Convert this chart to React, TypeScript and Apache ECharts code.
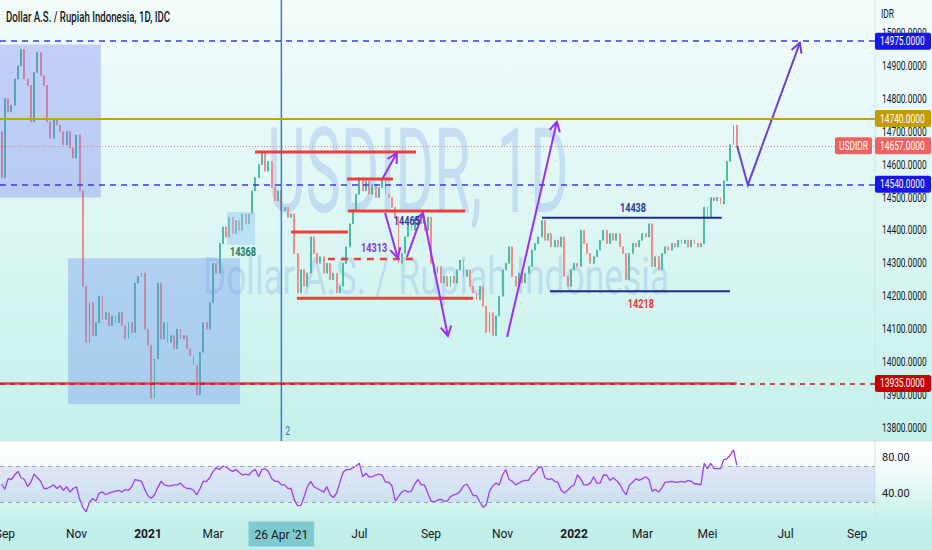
import { useEffect, useRef } from 'react';
import * as echarts from 'echarts';

// 2-trading-day bars starting Thu 27 Aug 2020; the axis runs on into the future (~Sep 2022)
const FIRST_DAY = '2020-08-27';
const BAR_COUNT = 269;
const FIRST_OPEN = 14700;

const closes = [
  14560, 14800, 14760, 14780, 14860, 14900, 14950, 14860, 14840, 14730,
  14880, 14940, 14870, 14840, 14730, 14680, 14740, 14720, 14700, 14660,
  14700, 14650, 14620, 14690, 14520, 14230, 14060, 14180, 14080, 14120,
  14200, 14130, 14150, 14110, 14140, 14120, 14150, 14110, 14070, 14120,
  14090, 14240, 14260, 14270, 14100, 14050, 13890, 14010, 14240, 14070,
  14120, 14060, 14080, 14040, 14100, 14070, 14080, 14040, 14020, 13990,
  13900, 14030, 14120, 14100, 14180, 14300, 14270, 14360, 14410, 14380,
  14440, 14390, 14430, 14400, 14450, 14420, 14450, 14520, 14560, 14600,
  14640, 14580, 14610, 14530, 14490, 14520, 14460, 14470, 14440, 14450,
  14330, 14210, 14280, 14230, 14270, 14380, 14330, 14300, 14320, 14270,
  14300, 14250, 14270, 14210, 14230, 14300, 14350, 14420, 14460, 14510,
  14560, 14520, 14550, 14510, 14540, 14500, 14530, 14560, 14510, 14500,
  14470, 14440, 14300, 14330, 14380, 14420, 14400, 14440, 14420, 14430,
  14400, 14440, 14300, 14270, 14290, 14240, 14260, 14230, 14260, 14240,
  14280, 14310, 14260, 14280, 14230, 14210, 14190, 14230, 14170, 14090,
  14150, 14080, 14140, 14200, 14280, 14300, 14350, 14260, 14230, 14270,
  14240, 14270, 14290, 14340, 14360, 14380, 14430, 14370, 14390, 14350,
  14370, 14350, 14380, 14260, 14230, 14280, 14300, 14290, 14400, 14360,
  14330, 14300, 14320, 14340, 14370, 14400, 14360, 14390, 14370, 14390,
  14350, 14330, 14250, 14330, 14360, 14350, 14370, 14390, 14380, 14420,
  14290, 14320, 14280, 14330, 14350, 14340, 14360, 14350, 14370, 14360,
  14370, 14350, 14370, 14360, 14350, 14360, 14470, 14440, 14500, 14490,
  14500, 14480, 14550, 14610, 14660, 14720, 14657
];

const rsiValues = [
  50, 44, 56, 55, 60, 64, 57, 55, 47, 52,
  61, 57, 53, 45, 45, 47, 49, 45, 48, 43,
  47, 41, 45, 47, 33, 24, 19, 30, 34, 31,
  40, 41, 38, 40, 41, 42, 43, 41, 44, 43,
  47, 55, 54, 53, 44, 37, 34, 38, 46, 53,
  49, 48, 48, 49, 49, 51, 47, 45, 45, 43,
  38, 45, 53, 53, 57, 64, 68, 66, 70, 69,
  66, 64, 66, 63, 60, 61, 60, 64, 66, 58,
  66, 67, 64, 56, 53, 53, 49, 49, 45, 45,
  32, 26, 26, 36, 47, 53, 47, 45, 43, 41,
  47, 38, 35, 40, 52, 63, 66, 66, 68, 70,
  73, 58, 62, 58, 58, 60, 61, 60, 52, 52,
  48, 31, 36, 41, 43, 41, 42, 50, 55, 49,
  49, 40, 31, 30, 32, 33, 31, 31, 36, 38,
  39, 42, 48, 50, 44, 37, 37, 30, 24, 27,
  42, 48, 51, 49, 60, 66, 55, 53, 49, 51,
  53, 54, 54, 60, 63, 68, 69, 57, 55, 56,
  53, 52, 43, 40, 43, 47, 49, 60, 56, 49,
  49, 51, 58, 51, 51, 60, 60, 54, 57, 54,
  50, 43, 38, 49, 52, 56, 54, 56, 58, 55,
  42, 44, 41, 46, 52, 52, 53, 52, 52, 53,
  52, 54, 53, 50, 50, 49, 73, 67, 73, 67,
  67, 67, 77, 78, 82, 88, 71
];

const priceTicks = [13800, 13900, 14000, 14100, 14200, 14300, 14400, 14500, 14600, 14700, 14800, 14900, 15000];
const rsiTicks = [40, 80];
// time-scale labels as TradingView placed them (bar index of the first session of the month)
const xTickBars = [1, 23, 45, 65, 110, 132, 154, 176, 197, 217, 241, 263];
const xTickTexts = ['Sep', 'Nov', '2021', 'Mar', 'Jul', 'Sep', 'Nov', '2022', 'Mar', 'Mei', 'Jul', 'Sep'];
const crosshairBar = 86;
const crosshairLabel = "26 Apr '21";

const priceLevels = [
  { price: 14975, color: '#3a3ae6', box: '#1616e6', dash: [6, 5], width: 1.5 },
  { price: 14740, color: '#c9a000', box: '#c49b00', dash: 'solid', width: 2 },
  { price: 14540, color: '#3a3ae6', box: '#1616e6', dash: [6, 5], width: 1.5 },
  { price: 13935, color: '#c41414', box: '#c80000', dash: [5, 5], width: 1.5 },
  { price: 14657, color: '#f07a7a', box: '#f06262', dash: [1, 2], width: 1 }
];

const RED = '#f23c3c';
const NAVY = '#1e2a8e';
const PURPLE = '#9b2ff2';
const INDIGO = '#6c3fd2';

// drawings in [bar index, price]
const boxes = [
  { from: [-0.5, 14965], to: [30.5, 14500], fill: 'rgba(104,116,240,0.32)' },
  { from: [20.4, 14315], to: [73.3, 13872], fill: 'rgba(96,134,238,0.33)' },
  { from: [69.3, 14456], to: [77.9, 14356], fill: 'rgba(150,200,245,0.45)' }
];

const segments = [
  { from: [77.9, 14638], to: [127.4, 14638], color: RED, width: 3 },
  { from: [106.2, 14556], to: [120.3, 14556], color: RED, width: 3 },
  { from: [106.5, 14459], to: [142.5, 14459], color: RED, width: 3 },
  { from: [89, 14395], to: [106.5, 14395], color: RED, width: 3 },
  { from: [100.3, 14313], to: [127.7, 14313], color: RED, width: 2.5, dash: [7, 6] },
  { from: [90.8, 14194], to: [144.9, 14194], color: RED, width: 3 },
  { from: [166.1, 14438], to: [221.4, 14438], color: NAVY, width: 2 },
  { from: [168.6, 14215], to: [223.9, 14215], color: NAVY, width: 2 },
  { from: [-0.5, 13935], to: [226, 13935], color: '#e84040', width: 2.5 }
];

const arrows = [
  { points: [[117.2, 14559], [121.5, 14635]], color: PURPLE },
  { points: [[117.9, 14453], [121.8, 14316]], color: PURPLE },
  { points: [[124.6, 14319], [129.5, 14453]], color: PURPLE },
  { points: [[129.5, 14453], [137.2, 14079]], color: PURPLE },
  { points: [[155.4, 14076], [170.7, 14730]], color: PURPLE },
  { points: [[226.1, 14657], [229.4, 14538], [245.4, 14970]], color: INDIGO }
];

const notes = [
  { at: [124.6, 14428], text: '14465', color: '#2b3a9c' },
  { at: [114.5, 14346], text: '14313', color: '#8e2fd8' },
  { at: [194.1, 14468], text: '14438', color: '#2b3a9c' },
  { at: [196.5, 14176], text: '14218', color: '#e03a3a' },
  { at: [74.2, 14334], text: '14368', color: '#1f7e6a' }
];

const FONT = 'Roboto, sans-serif';
const SQUEEZE = 0.7; // the screenshot's type is horizontally condensed

const buildAxis = () => {
  const days: string[] = [];
  const d = new Date(FIRST_DAY + 'T00:00:00Z');
  while (days.length < BAR_COUNT * 2) {
    const wd = d.getUTCDay();
    if (wd !== 0 && wd !== 6) days.push(d.toISOString().slice(0, 10));
    d.setUTCDate(d.getUTCDate() + 1);
  }
  const categories = Array.from({ length: BAR_COUNT }, (_, i) => days[2 * i]);
  const labels: Record<number, string> = {};
  xTickBars.forEach((b, k) => {
    const t = xTickTexts[k];
    labels[b] = /^\d{4}$/.test(t) ? `{yr|${t}}` : t;
  });
  labels[crosshairBar] = `{hl|${crosshairLabel}}`;
  return { categories, labels };
};

const App = () => {
  const chartRef = useRef<HTMLDivElement>(null);

  useEffect(() => {
    if (!chartRef.current) return;
    document.body.style.margin = '0';
    const chart = echarts.init(chartRef.current, null, { renderer: 'svg' });
    const { categories, labels } = buildAxis();

    const candles = closes.map((c, i) => {
      const o = i === 0 ? FIRST_OPEN : closes[i - 1];
      return [o, c, Math.min(o, c), Math.max(o, c)];
    });

    const squeezedText = (x: number, y: number, text: string, fill: string, fontSize: number, align: string, weight: any = 'normal') => ({
      type: 'text', x, y, scaleX: SQUEEZE,
      style: { text, fill, fontSize, fontWeight: weight, fontFamily: FONT, align, verticalAlign: 'middle' }
    });

    const renderDrawings = (_params: any, api: any) => {
      const children: any[] = [];
      const pt = (p: number[]) => api.coord(p);

      boxes.forEach(b => {
        const a = pt(b.from);
        const c = pt(b.to);
        children.push({
          type: 'rect',
          shape: { x: Math.min(a[0], c[0]), y: Math.min(a[1], c[1]), width: Math.abs(c[0] - a[0]), height: Math.abs(c[1] - a[1]) },
          style: { fill: b.fill }
        });
      });

      segments.forEach(s => {
        const a = pt(s.from);
        const c = pt(s.to);
        children.push({
          type: 'line',
          shape: { x1: a[0], y1: a[1], x2: c[0], y2: c[1] },
          style: { stroke: s.color, lineWidth: s.width, lineDash: s.dash || null }
        });
      });

      // crosshair vertical line
      const vt = pt([crosshairBar, 15100]);
      const vb = pt([crosshairBar, 13760]);
      children.push({
        type: 'line',
        shape: { x1: vt[0], y1: vt[1], x2: vb[0], y2: vb[1] },
        style: { stroke: '#2f7fd6', lineWidth: 1.5 }
      });
      const two = pt([crosshairBar, 13792]);
      children.push(squeezedText(two[0] + 4, two[1], '2', '#2f6fc6', 12, 'left'));

      arrows.forEach(ar => {
        const pts = ar.points.map(pt);
        children.push({
          type: 'polyline',
          shape: { points: pts },
          style: { stroke: ar.color, lineWidth: 2, fill: 'none' }
        });
        const [x2, y2] = pts[pts.length - 1];
        const [x1, y1] = pts[pts.length - 2];
        const ang = Math.atan2(y2 - y1, x2 - x1);
        const L = 11;
        children.push({
          type: 'polyline',
          shape: {
            points: [
              [x2 - L * Math.cos(ang - 0.5), y2 - L * Math.sin(ang - 0.5)],
              [x2, y2],
              [x2 - L * Math.cos(ang + 0.5), y2 - L * Math.sin(ang + 0.5)]
            ]
          },
          style: { stroke: ar.color, lineWidth: 2, fill: 'none' }
        });
      });

      notes.forEach(n => {
        const p = pt(n.at);
        children.push(squeezedText(p[0], p[1], n.text, n.color, 13, 'center', 'bold'));
      });

      // price scale: tick labels, then the coloured price tags on top
      const right = pt([BAR_COUNT - 0.5, 14000])[0];
      priceTicks.forEach(v => {
        const y = pt([0, v])[1];
        children.push(squeezedText(right + 7, y, v.toFixed(4), '#131722', 12, 'left'));
      });
      priceLevels.forEach(l => {
        const y = pt([0, l.price])[1];
        children.push({
          type: 'rect',
          shape: { x: right, y: y - 8.5, width: 56, height: 17, r: 2 },
          style: { fill: l.box }
        });
        children.push(squeezedText(right + 5, y, l.price.toFixed(4), '#ffffff', 12, 'left'));
      });

      // "USDIDR" tag next to last price
      const last = closes[closes.length - 1];
      const tagY = pt([0, last])[1];
      children.push({
        type: 'rect',
        shape: { x: right - 40, y: tagY - 8.5, width: 37, height: 17, r: 2 },
        style: { fill: '#f06262' }
      });
      children.push(squeezedText(right - 21.5, tagY, 'USDIDR', '#ffffff', 12, 'center'));

      return { type: 'group', children };
    };

    const option: any = {
      animation: false,
      grid: [
        { left: 0, right: 57, top: 0, height: 441, outerBoundsMode: 'none', containLabel: false },
        { left: 0, right: 57, top: 442, height: 78, outerBoundsMode: 'none', containLabel: false }
      ],
      xAxis: [
        { type: 'category', gridIndex: 0, data: categories, boundaryGap: true, show: false },
        {
          type: 'category', gridIndex: 1, data: categories, boundaryGap: true,
          axisLine: { show: false }, axisTick: { show: false }, splitLine: { show: false },
          axisLabel: {
            interval: (idx: number) => labels[idx] !== undefined,
            formatter: (_v: string, idx: number) => labels[idx] || '',
            verticalAlign: 'middle',
            margin: 14,
            color: '#131722',
            fontSize: 12,
            fontFamily: FONT,
            rich: {
              yr: { fontWeight: 'bold', fontSize: 12, color: '#131722', fontFamily: FONT },
              hl: { backgroundColor: '#80c9ce', padding: [7, 6, 6, 6], color: '#131722', fontSize: 12, fontFamily: FONT }
            }
          }
        },
        { type: 'value', gridIndex: 0, min: -0.5, max: BAR_COUNT - 0.5, show: false }
      ],
      yAxis: [
        {
          type: 'value', gridIndex: 0, position: 'right', min: 13760, max: 15100,
          axisLine: { show: false }, axisTick: { show: false }, splitLine: { show: false },
          axisLabel: { show: false }
        },
        {
          type: 'value', gridIndex: 1, position: 'right', min: 10, max: 96.67,
          axisLine: { show: false }, axisTick: { show: false }, splitLine: { show: false },
          axisLabel: {
            customValues: rsiTicks,
            formatter: (v: number) => v.toFixed(2),
            margin: 7, color: '#131722', fontSize: 11, fontFamily: FONT
          }
        }
      ],
      graphic: [
        {
          type: 'rect', z: -10, silent: true,
          shape: { x: 0, y: 441, width: 932, height: 79 },
          style: {
            fill: new echarts.graphic.LinearGradient(0, 0, 0, 1, [
              { offset: 0, color: '#ffffff' },
              { offset: 0.3, color: '#f4fcfb' },
              { offset: 1, color: '#c8f1eb' }
            ])
          }
        },
        { type: 'line', silent: true, shape: { x1: 0, y1: 441, x2: 932, y2: 441 }, style: { stroke: '#d4e4e2', lineWidth: 1 } },
        { type: 'line', silent: true, shape: { x1: 875, y1: 0, x2: 875, y2: 520 }, style: { stroke: '#d4e4e2', lineWidth: 1 } },
        {
          type: 'text', x: 418, y: 172, scaleX: 0.5, silent: true,
          style: { text: 'USDIDR, 1D', fill: 'rgba(80,120,230,0.2)', fontSize: 118, fontFamily: 'Roboto', align: 'center', verticalAlign: 'middle' }
        },
        {
          type: 'text', x: 436, y: 276, scaleX: 0.68, silent: true,
          style: { text: 'Dollar A.S. / Rupiah Indonesia', fill: 'rgba(80,120,230,0.2)', fontSize: 52, fontFamily: 'Roboto', align: 'center', verticalAlign: 'middle' }
        },
        {
          type: 'text', x: 6, y: 17, scaleX: 0.69, silent: true,
          style: { text: 'Dollar A.S. / Rupiah Indonesia, 1D, IDC', fill: '#131722', fontSize: 14, fontWeight: 500, fontFamily: 'Roboto', align: 'left', verticalAlign: 'middle' }
        },
        {
          type: 'text', x: 881, y: 14, scaleX: SQUEEZE, silent: true,
          style: { text: 'IDR', fill: '#131722', fontSize: 12, fontFamily: FONT, align: 'left', verticalAlign: 'middle' }
        }
      ],
      series: [
        {
          name: 'USDIDR',
          type: 'candlestick',
          xAxisIndex: 0,
          yAxisIndex: 0,
          data: candles,
          barWidth: 1.4,
          itemStyle: {
            color: '#4fbaa6', color0: '#f28b8b',
            borderColor: '#4fbaa6', borderColor0: '#f28b8b', borderWidth: 1
          },
          markLine: {
            silent: true,
            symbol: ['none', 'none'],
            label: { show: false },
            data: priceLevels.map(l => ({
              yAxis: l.price,
              lineStyle: { color: l.color, type: l.dash as any, width: l.width }
            }))
          }
        },
        {
          name: 'drawings',
          type: 'custom',
          xAxisIndex: 2,
          yAxisIndex: 0,
          silent: true,
          z: 3,
          data: [[0, 14000]],
          renderItem: renderDrawings
        },
        {
          name: 'RSI',
          type: 'line',
          xAxisIndex: 1,
          yAxisIndex: 1,
          data: rsiValues,
          symbol: 'none',
          lineStyle: { color: '#a13ef0', width: 1.3 },
          markArea: {
            silent: true,
            itemStyle: { color: 'rgba(126,96,230,0.13)' },
            data: [[{ yAxis: 30 }, { yAxis: 70 }]]
          },
          markLine: {
            silent: true,
            symbol: ['none', 'none'],
            label: { show: false },
            lineStyle: { color: '#a0a6ae', type: [4, 4], width: 1 },
            data: [{ yAxis: 70 }, { yAxis: 30 }]
          }
        }
      ]
    };

    chart.setOption(option);

    return () => {
      chart.dispose();
    };
  }, []);

  return (
    <div
      ref={chartRef}
      style={{
        position: 'fixed', left: 0, top: 0, width: 932, height: 550,
        background: 'linear-gradient(to bottom, #f3fcfb 0px, #c5f1eb 441px, #c3efe9 520px, #c1eee8 550px)'
      }}
    />
  );
};

export default App;
